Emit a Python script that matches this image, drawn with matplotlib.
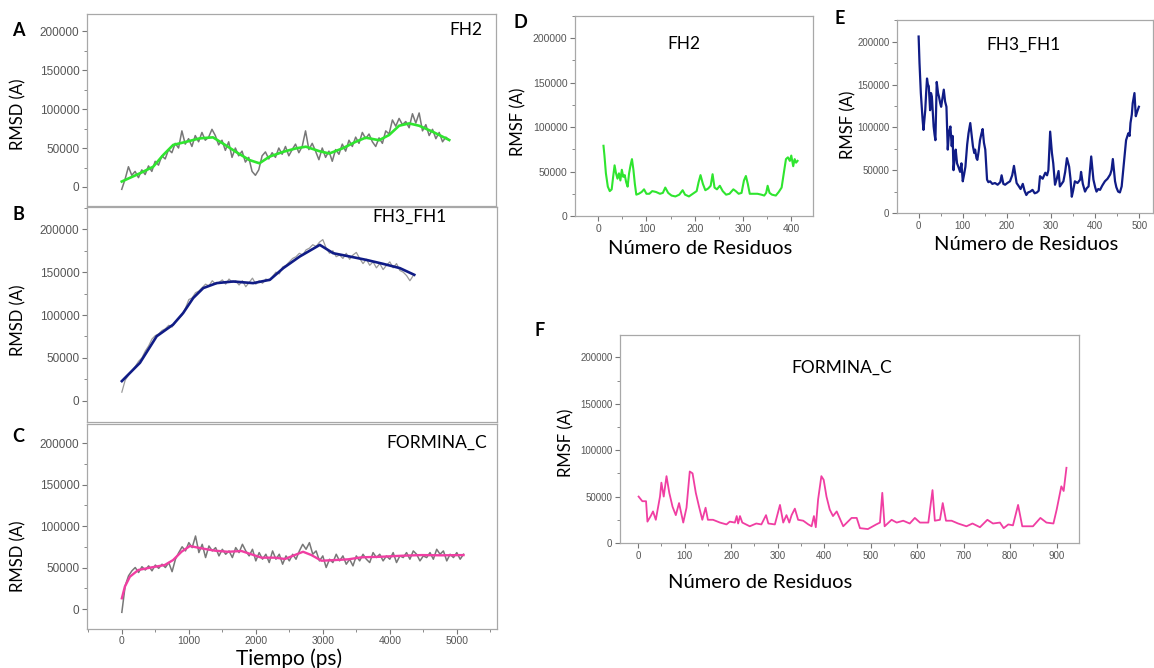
import numpy as np
import matplotlib.pyplot as plt
from matplotlib.ticker import MultipleLocator

W, H = 1154, 668
TXT_FONT = ['Lato', 'DejaVu Sans']
TICK_FONT = ['Liberation Sans', 'DejaVu Sans']

# ---------------- RMSD vs time (ps), values in thousands ----------------
fh2_t = np.arange(0, 4950, 50)
fh2_rmsd_k = [-3, 10, 26, 15, 20, 12, 22, 16, 27, 20, 33, 28, 40, 36, 48, 44, 56, 50, 72, 55,
              62, 52, 66, 58, 70, 60, 64, 74, 66, 54, 60, 47, 58, 38, 50, 40, 46, 32, 38, 20,
              15, 22, 40, 45, 36, 44, 38, 50, 42, 52, 40, 48, 55, 44, 52, 72, 48, 56, 46, 35,
              50, 38, 46, 33, 48, 42, 55, 46, 60, 52, 64, 56, 70, 62, 68, 58, 52, 63, 56, 72,
              68, 86, 78, 88, 80, 84, 76, 94, 82, 95, 72, 80, 66, 74, 62, 70, 58, 64, 60]
fh2_fit_t = [0, 270, 470, 620, 770, 965, 1165, 1365, 1510, 1710, 1910, 2060, 2210, 2410,
             2610, 2755, 2955, 3105, 3305, 3500, 3650, 3850, 4000, 4150, 4300, 4450, 4650, 4900]
fh2_fit_k = [7, 17.5, 26, 41, 54, 58, 62.4, 63.7, 56, 45, 34.6, 30.4, 38.9, 45,
             49.6, 51.7, 46, 43, 49.6, 58, 63.3, 60, 66.7, 78.6, 81.6, 78.6, 71, 60.3]

fh3_t = np.arange(0, 4400, 50)
fh3_rmsd_k = [10, 24, 30, 35, 40, 46, 50, 58, 64, 72, 76, 78, 82, 84, 88, 86, 92, 96, 100, 108,
              118, 120, 126, 128, 132, 136, 134, 140, 136, 138, 141, 136, 142, 138, 140, 135, 140, 133, 138, 143,
              136, 140, 137, 142, 140, 145, 150, 148, 156, 158, 162, 166, 168, 172, 170, 176, 178, 182, 180, 185,
              188, 178, 172, 175, 168, 170, 166, 172, 165, 170, 173, 166, 160, 165, 158, 162, 155, 160, 153, 158,
              162, 155, 160, 152, 150, 146, 140, 146]
fh3_fit_t = [0, 270, 520, 765, 915, 1065, 1215, 1415, 1660, 1960, 2210, 2410, 2655, 2955,
             3155, 3405, 3650, 3900, 4150, 4365]
fh3_fit_k = [22.9, 44.2, 75.2, 88.8, 102.3, 119.8, 131.4, 137.2, 139.1, 137.2, 141.1, 154.7, 168.2, 181.8,
             172.1, 168.2, 164.3, 159.7, 154.7, 146.9]

formc_t = np.arange(0, 5150, 50)
formc_rmsd_k = [-4, 28, 40, 46, 50, 44, 51, 47, 52, 46, 53, 49, 54, 50, 56, 45, 60, 68, 75, 70,
                80, 74, 88, 68, 78, 62, 76, 70, 74, 64, 72, 66, 70, 62, 74, 68, 78, 70, 64, 72,
                58, 68, 60, 66, 56, 70, 60, 66, 54, 64, 58, 66, 60, 70, 78, 72, 80, 66, 70, 58,
                64, 50, 60, 56, 66, 58, 64, 54, 60, 52, 64, 58, 66, 60, 56, 68, 62, 66, 58, 64,
                60, 68, 56, 64, 62, 68, 60, 70, 66, 58, 64, 62, 68, 60, 72, 66, 70, 58, 66, 62,
                68, 60, 66]
formc_fit_t = [0, 45, 120, 245, 445, 640, 765, 890, 1015, 1190, 1390, 1585, 1785, 1935,
               2085, 2285, 2435, 2580, 2705, 2830, 2980, 3180, 3380, 3575, 3875, 4175, 4475, 4770, 5100]
formc_fit_k = [12.9, 26.9, 38.9, 47, 50.2, 53, 59, 69, 75.9, 73.1, 70.3, 69, 69.9, 65.9,
               61.9, 61.9, 60.3, 65, 69, 65, 58.2, 59, 59.9, 62.3, 63, 64.2, 65, 64.7, 65]

# ---------------- RMSF vs residue, values in thousands ----------------
fh2_res = [11, 13, 16, 20, 24, 28, 31, 34, 37, 40, 43, 46, 49, 52, 55, 58, 61, 64, 67, 70,
           73, 76, 79, 84, 90, 95, 100, 106, 112, 120, 128, 134, 139, 145, 152, 160, 168, 175, 180, 188,
           196, 204, 208, 212, 217, 222, 228, 233, 237, 241, 246, 252, 258, 265, 272, 280, 285, 291, 297, 302,
           306, 310, 314, 322, 330, 338, 344, 348, 351, 355, 360, 368, 374, 380, 385, 389, 393, 397, 400, 404,
           407, 410, 413]
fh2_rmsf_k = [79, 68, 48, 33, 28, 30, 44, 57, 48, 42, 48, 40, 52, 44, 46, 38, 33, 48, 57, 64,
              52, 36, 24, 25, 27, 30, 25, 25, 28, 27, 25, 26, 32, 26, 23, 22, 24, 29, 24, 22,
              25, 28, 38, 46, 36, 29, 31, 34, 47, 32, 30, 34, 28, 24, 25, 30, 28, 25, 26, 40,
              45, 36, 25, 25, 25, 24, 23, 26, 34, 26, 24, 23, 27, 32, 50, 64, 66, 62, 68, 56,
              64, 60, 62]

fh3_res = [0, 2, 5, 9, 11, 13, 15, 17, 19, 21, 23, 26, 28, 30, 32, 34, 36, 38, 41, 44,
           46, 49, 51, 54, 57, 60, 63, 66, 69, 72, 75, 77, 79, 82, 84, 87, 90, 94, 97, 100,
           103, 106, 110, 113, 117, 120, 123, 126, 128, 131, 133, 136, 139, 142, 145, 148, 151, 155, 158, 162,
           167, 173, 179, 185, 188, 192, 196, 201, 207, 212, 216, 222, 226, 231, 236, 240, 244, 248, 253, 258,
           263, 268, 272, 275, 281, 287, 291, 294, 298, 302, 305, 309, 313, 317, 320, 324, 328, 332, 336, 341,
           344, 347, 350, 354, 360, 366, 368, 372, 377, 381, 385, 388, 391, 396, 400, 403, 407, 411, 416, 422,
           428, 434, 437, 440, 445, 448, 452, 456, 460, 465, 470, 475, 478, 480, 483, 485, 489, 492, 495, 499]
fh3_rmsf_k = [206, 175, 140, 109, 97, 108, 120, 140, 157, 150, 148, 120, 140, 136, 118, 101, 92, 85, 153, 140,
              136, 128, 124, 134, 144, 130, 124, 74, 95, 101, 78, 90, 50, 66, 74, 58, 54, 48, 58, 37,
              45, 54, 80, 93, 105, 92, 78, 70, 74, 64, 62, 72, 85, 92, 98, 82, 74, 39, 36, 37,
              34, 35, 33, 36, 44, 34, 33, 35, 37, 44, 55, 35, 32, 28, 34, 26, 21, 24, 25, 27,
              23, 24, 26, 43, 40, 47, 44, 50, 95, 70, 58, 33, 40, 49, 31, 34, 37, 48, 64, 54,
              40, 19, 26, 37, 35, 39, 48, 34, 25, 29, 31, 48, 66, 39, 30, 25, 28, 27, 32, 37,
              40, 45, 50, 63, 37, 30, 25, 24, 31, 58, 85, 93, 90, 105, 115, 128, 140, 113, 118, 124]

formc_res = [1, 9, 17, 20, 27, 32, 38, 47, 50, 55, 61, 67, 74, 81, 88, 97, 104, 111, 117, 124,
             131, 138, 145, 150, 161, 176, 190, 197, 208, 212, 215, 219, 224, 240, 254, 265, 275, 280, 294, 305,
             312, 319, 325, 330, 337, 344, 355, 366, 373, 378, 382, 387, 394, 399, 405, 412, 419, 427, 441, 459,
             470, 477, 494, 512, 520, 525, 530, 545, 556, 570, 584, 595, 606, 624, 633, 638, 649, 655, 662, 674,
             688, 706, 719, 735, 751, 763, 778, 786, 796, 806, 817, 826, 849, 865, 878, 893, 900, 910, 915, 921]
formc_rmsf_k = [50, 45, 45, 23, 29, 34, 25, 50, 65, 50, 72, 54, 39, 30, 43, 22, 38, 77, 75, 54,
                39, 25, 38, 25, 25, 22, 20, 23, 22, 29, 21, 29, 22, 18, 21, 20, 30, 21, 20, 41,
                22, 30, 22, 30, 37, 25, 24, 20, 18, 29, 17, 47, 72, 68, 50, 36, 29, 34, 18, 27,
                27, 16, 15, 20, 22, 54, 18, 25, 22, 24, 21, 27, 22, 22, 57, 24, 25, 43, 24, 24,
                21, 18, 21, 17, 25, 21, 22, 16, 20, 19, 41, 18, 18, 27, 22, 21, 36, 61, 56, 81]

GRAY = '#777777'
GREEN = '#2fe52f'
NAVY = '#101c86'
PINK = '#f03ea2'


def rect(x0, y0, x1, y1):
    return [x0 / W, 1 - y1 / H, (x1 - x0) / W, (y1 - y0) / H]


def ftext(x, y, s, **kw):
    kw.setdefault('family', TXT_FONT)
    fig.text(x / W, 1 - y / H, s, ha='center', va='center', **kw)


def style(ax, xlim, ylim, xmaj, xlabels=True, tick_size=7.5):
    ax.set_xlim(*xlim)
    ax.set_ylim(*ylim)
    ax.yaxis.set_major_locator(MultipleLocator(50000))
    ax.yaxis.set_minor_locator(MultipleLocator(25000))
    ax.xaxis.set_major_locator(MultipleLocator(xmaj))
    ax.xaxis.set_minor_locator(MultipleLocator(xmaj / 2))
    for sp in ax.spines.values():
        sp.set_color('#a8a8a8')
        sp.set_linewidth(0.9)
    ax.tick_params(which='both', direction='out', color='#777777', labelcolor='#555555',
                   labelsize=tick_size, top=False, right=False, pad=2)
    ax.tick_params(which='major', length=3.5, width=0.8)
    ax.tick_params(which='minor', length=2, width=0.6)
    if not xlabels:
        ax.tick_params(axis='x', which='both', bottom=False, labelbottom=False)
    for lab in ax.get_xticklabels() + ax.get_yticklabels():
        lab.set_family(TICK_FONT)


fig = plt.figure(figsize=(W / 100, H / 100), dpi=100)

rmsd_xlim = (-520, 5600)

# A: FH2 RMSD
axA = fig.add_axes(rect(87, 14, 496, 206))
axA.plot(fh2_t, np.array(fh2_rmsd_k) * 1000, color=GRAY, lw=1.1)
axA.plot(fh2_fit_t, np.array(fh2_fit_k) * 1000, color=GREEN, lw=1.9)
style(axA, rmsd_xlim, (-24400, 222000), 1000, xlabels=False, tick_size=8.5)

# B: FH3_FH1 RMSD
axB = fig.add_axes(rect(87, 207, 497, 422))
axB.plot(fh3_t, np.array(fh3_rmsd_k) * 1000, color='#9a9a9a', lw=0.9)
axB.plot(fh3_fit_t, np.array(fh3_fit_k) * 1000, color=NAVY, lw=1.9)
style(axB, rmsd_xlim, (-24800, 226000), 1000, xlabels=False, tick_size=8.5)

# C: FORMINA_C RMSD
axC = fig.add_axes(rect(87, 424, 497, 629))
axC.plot(formc_t, np.array(formc_rmsd_k) * 1000, color=GRAY, lw=1.1)
axC.plot(formc_fit_t, np.array(formc_fit_k) * 1000, color=PINK, lw=1.7)
style(axC, rmsd_xlim, (-24100, 223000), 1000, tick_size=8.5)
axC.tick_params(axis='x', labelsize=7.5, pad=1.5)

# D: FH2 RMSF
axD = fig.add_axes(rect(575, 16, 813, 216))
axD.plot(fh2_res, np.array(fh2_rmsf_k) * 1000, color=GREEN, lw=1.5)
style(axD, (-48, 445), (0, 225000), 100)

# E: FH3_FH1 RMSF
axE = fig.add_axes(rect(897, 20, 1153, 213))
axE.plot(fh3_res, np.array(fh3_rmsf_k) * 1000, color=NAVY, lw=1.6)
style(axE, (-49, 531), (0, 225300), 100, tick_size=7)

# F: FORMINA_C RMSF
axF = fig.add_axes(rect(620, 335, 1079, 543))
axF.plot(formc_res, np.array(formc_rmsf_k) * 1000, color=PINK, lw=1.3)
style(axF, (-39, 948), (0, 224000), 100, tick_size=7)

# panel letters
for s, x, y in [('A', 18, 30), ('B', 18, 215), ('C', 18, 437),
                ('D', 520, 22), ('E', 840, 18), ('F', 540, 330)]:
    ftext(x, y, s, fontsize=13, fontweight='bold')

# titles inside the panels
for s, x, y in [('FH2', 466, 30), ('FH3_FH1', 409, 217), ('FORMINA_C', 437, 443),
                ('FH2', 684, 44), ('FH3_FH1', 1023, 45), ('FORMINA_C', 842, 368)]:
    ftext(x, y, s, fontsize=12.5)

# axis labels
for s, x, y in [('RMSD (A)', 18, 114), ('RMSD (A)', 18, 320), ('RMSD (A)', 18, 556),
                ('RMSF (A)', 518, 122), ('RMSF (A)', 848, 125), ('RMSF (A)', 566, 443)]:
    ftext(x, y, s, fontsize=12, rotation=90)

ftext(289, 659, 'Tiempo (ps)', fontsize=15)
for x, y in [(700, 248), (1026, 245), (760, 583)]:
    ftext(x, y, 'Número de Residuos', fontsize=14.5)

fig.savefig('out.png', dpi=100)
